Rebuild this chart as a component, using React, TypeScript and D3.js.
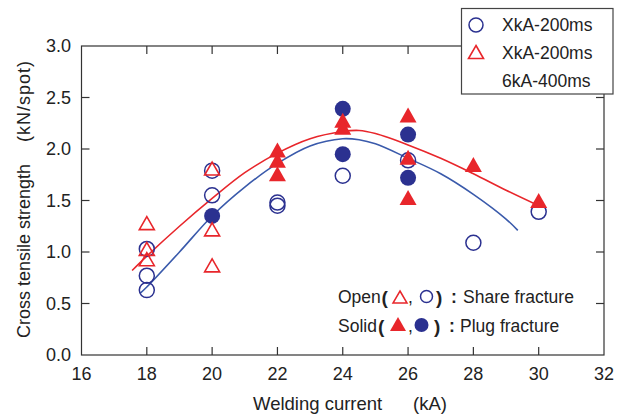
import React from "react";
import * as d3 from "d3";

const xTicks = [16, 18, 20, 22, 24, 26, 28, 30, 32];
const yTicks = [0, 0.5, 1.0, 1.5, 2.0, 2.5, 3.0];

// Share fracture (open) blue circles
const openCircles: [number, number][] = [
  [18, 0.63], [18, 0.77], [18, 1.03], [20, 1.79], [20, 1.55],
  [22, 1.48], [22, 1.45], [24, 1.74], [26, 1.89], [28, 1.09], [30, 1.39],
];
// Plug fracture (solid) blue circles
const filledCircles: [number, number][] = [
  [20, 1.35], [24, 2.39], [24, 1.95], [26, 2.14], [26, 1.72],
];
// Share fracture (open) red triangles
const openTriangles: [number, number][] = [
  [18, 1.28], [18, 1.03], [18, 0.93], [20, 1.81], [20, 1.22], [20, 0.87],
];
// Plug fracture (solid) red triangles
const filledTriangles: [number, number][] = [
  [22, 1.99], [22, 1.89], [22, 1.76], [24, 2.28], [24, 2.21],
  [26, 2.33], [26, 1.92], [26, 1.53], [28, 1.85], [30, 1.50],
];
// Fitted trend curves
const redCurve: [number, number][] = [
  [17.55, 0.82], [18, 0.96], [19, 1.25], [20, 1.52], [21, 1.77], [22, 1.96],
  [23, 2.1], [24, 2.17], [24.5, 2.18], [25, 2.15], [26, 2.04], [27, 1.91],
  [28, 1.76], [29, 1.6], [30, 1.45],
];
const blueCurve: [number, number][] = [
  [17.8, 0.6], [18, 0.66], [19, 1.0], [20, 1.35], [21, 1.63], [22, 1.86],
  [23, 2.03], [24, 2.1], [24.5, 2.09], [25, 2.05], [26, 1.91], [27, 1.76],
  [28, 1.56], [29, 1.32], [29.36, 1.21],
];

const RED = "#e8262b";
const NAVY = "#2b3190";
const BLUE_LINE = "#3a5aab";
const AXIS = "#333";
const FONT = "'Liberation Sans', Arial, sans-serif";

const tri = (w: number, h: number) => `M0,${-h / 2}L${w / 2},${h / 2}L${-w / 2},${h / 2}Z`;

export default function App() {
  const left = 81.5, right = 604, top = 46, bottom = 355;
  const x = d3.scaleLinear().domain([16, 32]).range([left, right]);
  const y = d3.scaleLinear().domain([0, 3]).range([bottom, top]);
  const line = d3
    .line<[number, number]>()
    .x((d) => x(d[0]))
    .y((d) => y(d[1]))
    .curve(d3.curveCatmullRom);
  const tl = 8;

  return (
    <svg width={623} height={419} style={{ position: "absolute", left: 0, top: 0, background: "#fff" }} fontFamily={FONT}>
      {/* frame */}
      <rect x={left} y={top} width={right - left} height={bottom - top} fill="none" stroke={AXIS} strokeWidth={1.2} />
      {/* ticks */}
      {xTicks.slice(1, -1).map((t) => (
        <g key={"xt" + t}>
          <line x1={x(t)} x2={x(t)} y1={bottom} y2={bottom - tl} stroke={AXIS} strokeWidth={1.2} />
          <line x1={x(t)} x2={x(t)} y1={top} y2={top + tl} stroke={AXIS} strokeWidth={1.2} />
        </g>
      ))}
      {yTicks.slice(1, -1).map((t) => (
        <g key={"yt" + t}>
          <line x1={left} x2={left + tl} y1={y(t)} y2={y(t)} stroke={AXIS} strokeWidth={1.2} />
          <line x1={right} x2={right - tl} y1={y(t)} y2={y(t)} stroke={AXIS} strokeWidth={1.2} />
        </g>
      ))}
      {xTicks.map((t) => (
        <text key={"xl" + t} x={x(t)} y={380} textAnchor="middle" fontSize={18} fill="#222">
          {t}
        </text>
      ))}
      {yTicks.map((t) => (
        <text key={"yl" + t} x={71} y={y(t)} dy="0.36em" textAnchor="end" fontSize={18} fill="#222">
          {t.toFixed(1)}
        </text>
      ))}
      {/* axis titles */}
      <text x={253} y={410} fontSize={18.5} fill="#222">Welding current</text>
      <text x={413} y={410} fontSize={18.5} fill="#222">(kA)</text>
      <g transform="translate(29.5,338) rotate(-90)">
        <text x={0} y={0} fontSize={18} fill="#222">Cross tensile strength</text>
        <text x={196} y={0} fontSize={18} fill="#222" letterSpacing={1}>(kN/spot)</text>
      </g>

      {/* curves */}
      <path d={line(blueCurve) || ""} fill="none" stroke={BLUE_LINE} strokeWidth={1.6} />
      <path d={line(redCurve) || ""} fill="none" stroke={RED} strokeWidth={1.6} />

      {/* markers */}
      {openCircles.map((d, i) => (
        <circle key={"oc" + i} cx={x(d[0])} cy={y(d[1])} r={7.5} fill="none" stroke={NAVY} strokeWidth={1.5} />
      ))}
      {filledCircles.map((d, i) => (
        <circle key={"fc" + i} cx={x(d[0])} cy={y(d[1])} r={8} fill={NAVY} />
      ))}
      {openTriangles.map((d, i) => (
        <path key={"ot" + i} transform={`translate(${x(d[0])},${y(d[1])})`} d={tri(15, 13)} fill="none" stroke={RED} strokeWidth={1.6} />
      ))}
      {filledTriangles.map((d, i) => (
        <path key={"ft" + i} transform={`translate(${x(d[0])},${y(d[1])})`} d={tri(17, 15)} fill={RED} />
      ))}

      {/* legend */}
      <rect x={461.5} y={8.5} width={151.5} height={85.5} fill="#fff" stroke="#444" strokeWidth={1.2} />
      <circle cx={476} cy={25} r={7} fill="none" stroke={NAVY} strokeWidth={1.5} />
      <path transform="translate(476,52)" d={tri(15, 13)} fill="none" stroke={RED} strokeWidth={1.6} />
      <text x={502} y={31} fontSize={17.5} fill="#222">XkA-200ms</text>
      <text x={502} y={59} fontSize={17.5} fill="#222">XkA-200ms</text>
      <text x={502} y={87} fontSize={17.5} fill="#222">6kA-400ms</text>

      {/* annotation */}
      <text x={338} y={303} fontSize={17.5} fill="#222">Open</text>
      <text x={381.5} y={304} fontSize={19} fontWeight="bold" fill="#222">(</text>
      <path transform="translate(400,297)" d={tri(14, 12)} fill="none" stroke={RED} strokeWidth={1.5} />
      <text x={408} y={303} fontSize={17.5} fill="#222">,</text>
      <circle cx={426.5} cy={296.5} r={6} fill="none" stroke={NAVY} strokeWidth={1.5} />
      <text x={436} y={304} fontSize={19} fontWeight="bold" fill="#222">)</text>
      <text x={451} y={303} fontSize={17.5} fontWeight="bold" fill="#222">:</text>
      <text x={463} y={303} fontSize={17.5} fill="#222">Share fracture</text>

      <text x={338} y={332} fontSize={17.5} fill="#222">Solid</text>
      <text x={378} y={333} fontSize={19} fontWeight="bold" fill="#222">(</text>
      <path transform="translate(398,324)" d={tri(16, 14)} fill={RED} />
      <text x={408} y={332} fontSize={17.5} fill="#222">,</text>
      <circle cx={421.5} cy={325} r={7} fill={NAVY} />
      <text x={434} y={333} fontSize={19} fontWeight="bold" fill="#222">)</text>
      <text x={449} y={332} fontSize={17.5} fontWeight="bold" fill="#222">:</text>
      <text x={460} y={332} fontSize={17.5} fill="#222">Plug fracture</text>
    </svg>
  );
}
